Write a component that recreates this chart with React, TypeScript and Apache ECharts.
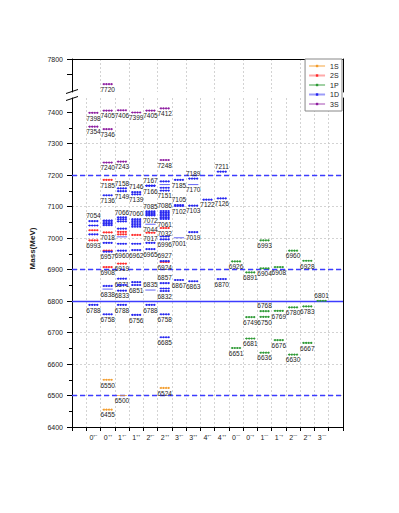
import React, { useEffect, useRef } from "react";
import * as echarts from "echarts";

const FONT = "Liberation Sans, Arial, sans-serif";

const categories = [
  "0⁺⁻", "0⁺⁺", "1⁺⁻", "1⁺⁺", "2⁺⁻", "2⁺⁺", "3⁺⁻", "3⁺⁺", "4⁺⁻", "4⁺⁺",
  "0⁻⁻", "0⁻⁺", "1⁻⁻", "1⁻⁺", "2⁻⁻", "2⁻⁺", "3⁻⁻",
];
// axis has one empty band on each side
const axisCategories = ["", ...categories, ""];

// [J^PC, mass (MeV), label: 0 none, 1 below, 2 above]
const levels1S: [string, number, number][] = [
  ["0⁺⁺", 6550, 1], ["0⁺⁺", 6455, 1], ["1⁺⁻", 6500, 1], ["2⁺⁺", 6524, 1],
];
const levels2S: [string, number, number][] = [
  ["0⁺⁻", 7025, 0], ["0⁺⁻", 6993, 1],
  ["0⁺⁺", 7185, 1], ["0⁺⁺", 7018, 1], ["0⁺⁺", 6960, 0], ["0⁺⁺", 6908, 1],
  ["1⁺⁻", 7020, 0], ["1⁺⁻", 7012, 0], ["1⁺⁻", 6919, 1],
  ["1⁺⁺", 7010, 0],
  ["2⁺⁻", 7017, 1],
  ["2⁺⁺", 7032, 1], ["2⁺⁺", 6924, 1],
];
const levels1P: [string, number, number][] = [
  ["0⁻⁻", 6926, 1], ["0⁻⁻", 6651, 1],
  ["0⁻⁺", 6891, 1], ["0⁻⁺", 6749, 1], ["0⁻⁺", 6681, 1],
  ["1⁻⁻", 6993, 1], ["1⁻⁻", 6904, 1], ["1⁻⁻", 6768, 2], ["1⁻⁻", 6750, 1], ["1⁻⁻", 6636, 1],
  ["1⁻⁺", 6908, 1], ["1⁻⁺", 6769, 1], ["1⁻⁺", 6676, 1],
  ["2⁻⁻", 6960, 1], ["2⁻⁻", 6780, 1], ["2⁻⁻", 6630, 1],
  ["2⁻⁺", 6928, 1], ["2⁻⁺", 6783, 1], ["2⁻⁺", 6667, 1],
  ["3⁻⁻", 6801, 2],
];
const levels1D: [string, number, number][] = [
  ["0⁺⁻", 7054, 2], ["0⁺⁻", 7040, 0], ["0⁺⁻", 7012, 0], ["0⁺⁻", 6788, 1],
  ["0⁺⁺", 7136, 1], ["0⁺⁺", 7056, 0], ["0⁺⁺", 7051, 0], ["0⁺⁺", 7046, 0], ["0⁺⁺", 7041, 0],
  ["0⁺⁺", 6985, 0], ["0⁺⁺", 6957, 1], ["0⁺⁺", 6848, 0], ["0⁺⁺", 6838, 1], ["0⁺⁺", 6758, 1],
  ["1⁺⁻", 7158, 2], ["1⁺⁻", 7149, 1], ["1⁺⁻", 7066, 2], ["1⁺⁻", 7060, 0], ["1⁺⁻", 7053, 0],
  ["1⁺⁻", 7030, 0], ["1⁺⁻", 7004, 0], ["1⁺⁻", 6982, 0], ["1⁺⁻", 6960, 1], ["1⁺⁻", 6871, 1],
  ["1⁺⁻", 6851, 0], ["1⁺⁻", 6833, 1], ["1⁺⁻", 6788, 1],
  ["1⁺⁺", 7146, 2], ["1⁺⁺", 7139, 1], ["1⁺⁺", 7060, 2], ["1⁺⁺", 7054, 0], ["1⁺⁺", 7048, 0],
  ["1⁺⁺", 7042, 0], ["1⁺⁺", 7036, 0], ["1⁺⁺", 6982, 0], ["1⁺⁺", 6962, 1], ["1⁺⁺", 6860, 0],
  ["1⁺⁺", 6851, 1], ["1⁺⁺", 6756, 1],
  ["2⁺⁻", 7167, 2], ["2⁺⁻", 7166, 1], ["2⁺⁻", 7085, 2], ["2⁺⁻", 7080, 0], ["2⁺⁻", 7076, 0],
  ["2⁺⁻", 7072, 1], ["2⁺⁻", 7044, 1], ["2⁺⁻", 6985, 0], ["2⁺⁻", 6965, 1], ["2⁺⁻", 6835, 2],
  ["2⁺⁻", 6788, 1],
  ["2⁺⁺", 7180, 0], ["2⁺⁺", 7170, 0], ["2⁺⁺", 7160, 0], ["2⁺⁺", 7151, 1], ["2⁺⁺", 7086, 2],
  ["2⁺⁺", 7081, 0], ["2⁺⁺", 7076, 0], ["2⁺⁺", 7071, 0], ["2⁺⁺", 7066, 0], ["2⁺⁺", 7061, 1],
  ["2⁺⁺", 7005, 0], ["2⁺⁺", 6996, 1], ["2⁺⁺", 6927, 2], ["2⁺⁺", 6857, 2], ["2⁺⁺", 6840, 0],
  ["2⁺⁺", 6832, 1], ["2⁺⁺", 6758, 1], ["2⁺⁺", 6685, 1],
  ["3⁺⁻", 7185, 1], ["3⁺⁻", 7105, 2], ["3⁺⁻", 7102, 1], ["3⁺⁻", 7001, 1], ["3⁺⁻", 6867, 1],
  ["3⁺⁺", 7189, 2], ["3⁺⁺", 7170, 1], ["3⁺⁺", 7103, 1], ["3⁺⁺", 7019, 1], ["3⁺⁺", 6863, 1],
  ["4⁺⁻", 7122, 1],
  ["4⁺⁺", 7211, 2], ["4⁺⁺", 7126, 1], ["4⁺⁺", 6870, 1],
];
const levels3S: [string, number, number][] = [
  ["0⁺⁻", 7398, 1], ["0⁺⁻", 7354, 1],
  ["0⁺⁺", 7720, 1], ["0⁺⁺", 7405, 1], ["0⁺⁺", 7346, 1], ["0⁺⁺", 7240, 1],
  ["1⁺⁻", 7406, 1], ["1⁺⁻", 7243, 1],
  ["1⁺⁺", 7399, 1],
  ["2⁺⁻", 7405, 1],
  ["2⁺⁺", 7412, 1], ["2⁺⁺", 7248, 1],
];

const dashedLevels = [6500, 6900, 7200];
const solidLevels = [6800];
const lowerTicks = [6400, 6500, 6600, 6700, 6800, 6900, 7000, 7100, 7200, 7300, 7400];
const upperTicks = [7800];
const upperMinorTicks = [7750, 7800];
const lowerRange = [6400, 7445];
const upperRange = [7695, 7800];

const seriesDefs = [
  { name: "1S", data: levels1S, color: "#f39c2b", light: "rgba(243,156,43,0.45)" },
  { name: "2S", data: levels2S, color: "#ff2a2a", light: "rgba(255,42,42,0.4)" },
  { name: "1P", data: levels1P, color: "#2e9a35", light: "rgba(46,154,53,0.45)" },
  { name: "1D", data: levels1D, color: "#2424f0", light: "rgba(36,36,240,0.45)" },
  { name: "3S", data: levels3S, color: "#8e1ea0", light: "rgba(142,30,160,0.4)" },
];

function makeRender(color: string) {
  return (params: any, api: any) => {
    const xi = api.value(0);
    const m = api.value(1);
    const lab = api.value(2);
    const pt = api.coord([xi, m]);
    const bw = api.size([1, 0])[0];
    const half = bw * 0.36;
    const cx = pt[0];
    const cy = pt[1];
    const children: any[] = [
      {
        type: "line",
        shape: { x1: cx - half, y1: cy, x2: cx + half, y2: cy },
        style: { stroke: color, lineWidth: 0.7 },
      },
    ];
    for (let k = 0; k < 4; k++) {
      const px = cx - half + (k + 0.5) * ((2 * half) / 4);
      children.push({
        type: "circle",
        shape: { cx: px, cy: cy, r: 0.95 },
        style: { fill: color },
      });
    }
    if (lab) {
      children.push({
        type: "text",
        x: cx,
        y: lab === 1 ? cy + 1.8 : cy - 1.8,
        style: {
          text: String(m),
          fill: "#222",
          fontSize: 6.5,
          fontFamily: FONT,
          align: "center",
          verticalAlign: lab === 1 ? "top" : "bottom",
        },
      });
    }
    return { type: "group", children };
  };
}

const toData = (arr: [string, number, number][]) =>
  arr.map((d) => [axisCategories.indexOf(d[0]), d[1], d[2]]);

export default function App() {
  const ref = useRef<HTMLDivElement>(null);
  useEffect(() => {
    if (!ref.current) return;
    const chart = echarts.init(ref.current, undefined, { renderer: "svg" });

    const gridLine = { show: true, lineStyle: { color: "#c8c8c8", type: [2, 2], width: 0.8 } };

    const series: any[] = [];
    // legend entries
    seriesDefs.forEach((s) => {
      series.push({
        type: "line",
        name: s.name,
        xAxisIndex: 1,
        yAxisIndex: 1,
        data: [],
        symbol: "rect",
        symbolSize: 3,
        itemStyle: { color: s.color },
        lineStyle: { color: s.light, width: 1.2 },
      });
    });
    seriesDefs.forEach((s) => {
      const all = toData(s.data);
      const lower = all.filter((d) => d[1] <= lowerRange[1]);
      const upper = all.filter((d) => d[1] >= upperRange[0]);
      const lowerSeries: any = {
        type: "custom",
        name: s.name,
        xAxisIndex: 1,
        yAxisIndex: 1,
        data: lower,
        renderItem: makeRender(s.color),
        z: 3,
      };
      if (s.name === "1D") {
        lowerSeries.markLine = {
          silent: true,
          symbol: "none",
          label: { show: false },
          z: 2,
          data: [
            ...dashedLevels.map((v) => ({
              yAxis: v,
              lineStyle: { color: "#3c3cff", width: 1.3, type: [5, 3] },
            })),
            ...solidLevels.map((v) => ({
              yAxis: v,
              lineStyle: { color: "#3c3cff", width: 1.3, type: "solid" },
            })),
          ],
        };
      }
      series.push(lowerSeries);
      if (upper.length) {
        series.push({
          type: "custom",
          name: s.name,
          xAxisIndex: 0,
          yAxisIndex: 0,
          data: upper,
          renderItem: makeRender(s.color),
          z: 3,
        });
      }
    });

    const axisLineStyle = { show: true, lineStyle: { color: "#000", width: 1 } };
    const labelStyle = { fontSize: 7, color: "#222", fontFamily: FONT };
    const plain = (v: number) => String(v);

    chart.setOption({
      animation: false,
      backgroundColor: "#fff",
      legend: {
        data: seriesDefs.map((s) => s.name),
        orient: "vertical",
        right: 57,
        top: 59,
        padding: [3, 3, 3, 3],
        itemGap: 1.5,
        itemWidth: 16,
        itemHeight: 3,
        borderColor: "#888",
        borderWidth: 1,
        backgroundColor: "#fff",
        textStyle: { fontSize: 7, color: "#222", fontFamily: FONT, lineHeight: 8 },
      },
      grid: [
        { left: 72, right: 56, top: 59, height: 33 },
        { left: 72, right: 56, top: 98, bottom: 86 },
      ],
      xAxis: [
        {
          gridIndex: 0,
          type: "category",
          data: axisCategories,
          position: "top",
          boundaryGap: true,
          axisLine: axisLineStyle,
          axisTick: { show: false },
          axisLabel: { show: false },
          splitLine: gridLine,
        },
        {
          gridIndex: 1,
          type: "category",
          data: axisCategories,
          position: "bottom",
          boundaryGap: true,
          axisLine: axisLineStyle,
          axisTick: { show: true, length: 4, lineStyle: { color: "#000" } },
          axisLabel: { ...labelStyle, margin: 7, interval: 0 },
          splitLine: gridLine,
        },
      ],
      yAxis: [
        {
          gridIndex: 0,
          type: "value",
          min: upperRange[0],
          max: upperRange[1],
          position: "left",
          axisLine: axisLineStyle,
          axisTick: { show: true, length: 5, customValues: upperMinorTicks, lineStyle: { color: "#000" } },
          axisLabel: { ...labelStyle, margin: 9, customValues: upperTicks, formatter: plain },
          splitLine: { show: false },
        },
        {
          gridIndex: 1,
          type: "value",
          min: lowerRange[0],
          max: lowerRange[1],
          interval: 100,
          position: "left",
          name: "Mass(MeV)",
          nameLocation: "middle",
          nameGap: 33,
          nameTextStyle: { fontSize: 8, fontWeight: "bold", color: "#222", fontFamily: FONT, padding: [0, 0, 0, 28] },
          axisLine: axisLineStyle,
          axisTick: { show: true, length: 5, customValues: lowerTicks, lineStyle: { color: "#000" } },
          minorTick: { show: true, splitNumber: 2, length: 3, lineStyle: { color: "#000" } },
          axisLabel: { ...labelStyle, margin: 9, customValues: lowerTicks, formatter: plain },
          splitLine: { ...gridLine, showMinLine: false, showMaxLine: false },
        },
        {
          gridIndex: 0,
          type: "value",
          min: upperRange[0],
          max: upperRange[1],
          position: "right",
          axisLine: axisLineStyle,
          axisTick: { show: false },
          axisLabel: { show: false },
          splitLine: { show: false },
        },
        {
          gridIndex: 1,
          type: "value",
          min: lowerRange[0],
          max: lowerRange[1],
          position: "right",
          axisLine: axisLineStyle,
          axisTick: { show: false },
          axisLabel: { show: false },
          splitLine: { show: false },
        },
      ],
      graphic: [
        { type: "line", shape: { x1: 66, y1: 93.5, x2: 78, y2: 89.5 }, style: { stroke: "#000", lineWidth: 1 } },
        { type: "line", shape: { x1: 66, y1: 100.5, x2: 78, y2: 96.5 }, style: { stroke: "#000", lineWidth: 1 } },
      ],
      series,
    });
    return () => chart.dispose();
  }, []);
  return (
    <div
      ref={ref}
      style={{ position: "absolute", left: 0, top: 0, width: 399, height: 513 }}
    />
  );
}
